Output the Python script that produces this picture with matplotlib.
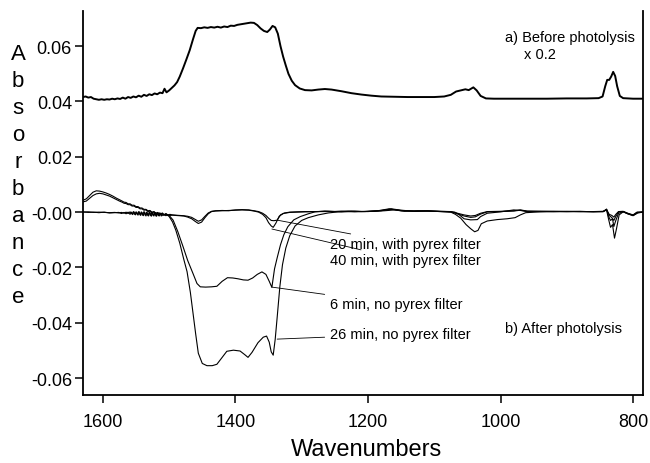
import matplotlib
matplotlib.use("Agg")
import matplotlib.pyplot as plt

plt.rcParams['font.family'] = ['Liberation Sans', 'DejaVu Sans']

# ---------------- data (wavenumber, absorbance) ----------------
before = [(1630,0.0416),(1626,0.0418),(1622,0.0414),(1618,0.0416),(1614,0.0410),(1610,0.0408),(1606,0.0406),
          (1602,0.0408),(1598,0.0406),(1594,0.0408),(1590,0.0407),(1586,0.0410),(1582,0.0408),(1578,0.0411),
          (1574,0.0409),(1570,0.0414),(1566,0.0410),(1562,0.0416),(1558,0.0413),(1554,0.0418),(1550,0.0415),
          (1546,0.0421),(1542,0.0417),(1538,0.0424),(1534,0.0420),(1530,0.0426),(1526,0.0423),(1522,0.0429),
          (1518,0.0426),(1514,0.0432),(1510,0.0430),(1507,0.0446),(1504,0.0433),(1500,0.0440),(1496,0.0449),
          (1492,0.0458),(1488,0.0470),(1484,0.0490),(1479,0.0520),(1474,0.0552),(1469,0.0585),(1464,0.0625),
          (1460,0.0655),(1457,0.0666),(1452,0.0665),(1447,0.0668),(1442,0.0666),(1437,0.0669),(1432,0.0667),
          (1427,0.0670),(1422,0.0667),(1417,0.0671),(1412,0.0669),(1407,0.0674),(1402,0.0673),(1397,0.0677),
          (1392,0.0679),(1387,0.0681),(1382,0.0683),(1377,0.0685),(1372,0.0684),(1367,0.0676),(1362,0.0664),
          (1357,0.0655),(1352,0.0651),(1348,0.0660),(1344,0.0673),(1340,0.0668),(1336,0.0645),(1332,0.0600),
          (1328,0.0562),(1324,0.0530),(1320,0.0500),(1315,0.0475),(1310,0.0459),(1303,0.0447),(1295,0.0441),
          (1285,0.0440),(1275,0.0443),(1265,0.0445),(1255,0.0443),(1240,0.0437),(1225,0.0430),(1210,0.0425),
          (1195,0.0421),(1180,0.0418),(1160,0.0417),(1140,0.0416),(1120,0.0416),(1100,0.0416),(1085,0.0418),
          (1075,0.0424),(1067,0.0436),(1060,0.0440),(1053,0.0444),(1048,0.0441),(1041,0.0451),(1036,0.0440),
          (1030,0.0420),(1022,0.0411),(1010,0.0410),(990,0.0410),(960,0.0410),(930,0.0410),(900,0.0411),
          (870,0.0411),(852,0.0412),(846,0.0418),(842,0.0455),(839,0.0478),(836,0.0478),(833,0.0490),
          (830,0.0507),(827,0.0492),(824,0.0455),(820,0.0420),(815,0.0412),(800,0.0410),(785,0.0410)]

pyrex_20min = [(1630,0.0000),(1622,0.0001),(1614,-0.0001),(1606,0.0000),(1598,-0.0001),(1590,-0.0002),
               (1582,-0.0001),(1576,-0.0003),(1572,-0.0001),(1568,-0.0004),(1565,0.0000),(1562,-0.0005),
               (1559,0.0001),(1556,-0.0007),(1554,0.0002),(1552,-0.0008),(1550,0.0001),(1548,-0.0009),
               (1546,0.0002),(1544,-0.0010),(1542,0.0001),(1540,-0.0011),(1538,0.0002),(1536,-0.0012),
               (1534,0.0000),(1532,-0.0013),(1530,0.0001),(1528,-0.0012),(1526,-0.0001),(1524,-0.0013),
               (1522,0.0000),(1520,-0.0014),(1518,-0.0001),(1516,-0.0013),(1514,-0.0002),(1512,-0.0014),
               (1510,-0.0003),(1508,-0.0012),(1505,-0.0005),(1502,-0.0012),(1499,-0.0008),(1495,-0.0010),
               (1490,-0.0011),(1484,-0.0012),
               (1478,-0.0013),(1472,-0.0015),(1466,-0.0019),(1461,-0.0026),(1456,-0.0033),(1451,-0.0028),
               (1446,-0.0015),(1441,-0.0003),(1436,0.0003),(1430,0.0005),(1420,0.0006),(1410,0.0005),
               (1400,0.0008),(1390,0.0009),(1380,0.0008),(1372,0.0005),(1365,0.0002),(1359,-0.0004),
               (1354,-0.0012),(1350,-0.0022),(1346,-0.0030),(1342,-0.0031),(1337,-0.0029),(1332,-0.0010),
               (1326,-0.0003),(1318,0.0000),(1308,0.0001),(1295,0.0002),(1280,0.0002),(1260,0.0002),
               (1240,0.0003),(1220,0.0001),(1200,0.0003),(1180,0.0006),(1165,0.0010),(1150,0.0006),
               (1130,0.0004),(1110,0.0005),(1090,0.0003),(1075,0.0002),(1065,-0.0004),(1055,-0.0010),
               (1045,-0.0014),(1038,-0.0012),(1030,-0.0004),(1020,0.0002),(1000,0.0003),(980,0.0005),
               (970,0.0008),(960,0.0004),(940,0.0003),(920,0.0002),(900,0.0003),(880,0.0002),(860,0.0002),
               (845,0.0003),(840,0.0009),(836,-0.0008),(832,-0.0012),(829,-0.0018),(826,-0.0008),
               (822,0.0002),(815,0.0003),(808,-0.0004),(800,-0.0010),(794,0.0000),(785,0.0001)]

pyrex_40min = [(1630,0.0001),(1622,-0.0001),(1614,0.0000),(1606,-0.0002),(1598,0.0000),(1590,-0.0003),
               (1582,-0.0002),(1576,-0.0001),(1572,-0.0005),(1568,-0.0001),(1565,-0.0006),(1562,0.0000),
               (1559,-0.0008),(1557,0.0000),(1555,-0.0009),(1553,0.0001),(1551,-0.0010),(1549,0.0000),
               (1547,-0.0011),(1545,0.0001),(1543,-0.0012),(1541,-0.0001),(1539,-0.0013),(1537,0.0000),
               (1535,-0.0014),(1533,-0.0002),(1531,-0.0014),(1529,-0.0001),(1527,-0.0015),(1525,-0.0003),
               (1523,-0.0014),(1521,-0.0002),(1519,-0.0015),(1517,-0.0004),(1515,-0.0014),(1513,-0.0005),
               (1511,-0.0013),(1508,-0.0007),(1505,-0.0013),(1502,-0.0009),(1499,-0.0012),(1495,-0.0011),
               (1490,-0.0012),(1484,-0.0013),
               (1478,-0.0014),(1472,-0.0018),(1466,-0.0024),(1461,-0.0033),(1456,-0.0041),(1451,-0.0036),
               (1446,-0.0020),(1441,-0.0006),(1436,0.0002),(1430,0.0004),(1420,0.0005),(1410,0.0006),
               (1400,0.0007),(1390,0.0008),(1380,0.0007),(1372,0.0004),(1365,0.0000),(1359,-0.0008),
               (1354,-0.0020),(1350,-0.0038),(1346,-0.0050),(1343,-0.0055),(1339,-0.0040),(1334,-0.0015),
               (1328,-0.0005),(1318,-0.0001),(1308,0.0000),(1295,0.0001),(1280,0.0002),(1260,0.0003),
               (1240,0.0001),(1220,0.0003),(1200,0.0002),(1180,0.0005),(1165,0.0012),(1150,0.0007),
               (1130,0.0003),(1110,0.0004),(1090,0.0002),(1075,0.0001),(1065,-0.0006),(1055,-0.0014),
               (1045,-0.0019),(1038,-0.0017),(1030,-0.0007),(1020,0.0001),(1000,0.0002),(980,0.0004),
               (970,0.0007),(960,0.0003),(940,0.0002),(920,0.0003),(900,0.0002),(880,0.0003),(860,0.0001),
               (845,0.0002),(840,0.0010),(836,-0.0012),(832,-0.0020),(829,-0.0030),(826,-0.0015),
               (822,0.0000),(815,0.0002),(808,-0.0005),(800,-0.0011),(794,-0.0001),(785,0.0000)]

nopyrex_6min = [(1630,0.0037),(1625,0.0040),(1620,0.0050),(1615,0.0060),(1610,0.0066),(1605,0.0068),
                (1600,0.0066),(1595,0.0062),(1590,0.0058),(1585,0.0052),(1580,0.0046),(1575,0.0040),
                (1571,0.0036),(1568,0.0032),(1565,0.0031),(1562,0.0027),(1559,0.0027),(1556,0.0022),
                (1553,0.0022),(1550,0.0017),(1547,0.0017),(1544,0.0012),(1541,0.0012),(1538,0.0007),
                (1535,0.0008),(1532,0.0002),(1529,0.0004),(1526,-0.0002),(1523,0.0000),(1520,-0.0005),
                (1517,-0.0003),(1514,-0.0008),(1511,-0.0005),(1508,-0.0009),(1504,-0.0007),(1500,-0.0012),
                (1494,-0.0029),(1487,-0.0070),(1479,-0.0125),(1472,-0.0175),(1464,-0.0222),(1458,-0.0258),
                (1453,-0.0270),(1445,-0.0271),(1436,-0.0270),(1428,-0.0268),(1420,-0.0250),(1412,-0.0237),
                (1404,-0.0238),(1396,-0.0241),(1388,-0.0245),(1381,-0.0246),(1374,-0.0238),(1367,-0.0225),
                (1360,-0.0216),(1354,-0.0225),(1349,-0.0250),(1345,-0.0272),(1341,-0.0205),(1337,-0.0165),
                (1332,-0.0118),(1327,-0.0082),(1321,-0.0053),(1312,-0.0028),(1302,-0.0016),(1290,-0.0006),
                (1280,0.0001),(1265,0.0004),(1250,0.0002),(1230,0.0004),(1210,0.0002),(1190,0.0003),
                (1175,0.0005),(1160,0.0008),(1145,0.0003),(1125,0.0005),(1100,0.0003),(1080,0.0002),
                (1069,0.0000),(1062,-0.0010),(1055,-0.0024),(1045,-0.0028),(1035,-0.0027),(1030,-0.0016),
                (1020,-0.0004),(1000,0.0001),(980,0.0008),(970,0.0006),(960,0.0002),(940,0.0003),
                (900,0.0002),(860,0.0002),(845,0.0002),(840,0.0011),(837,-0.0015),(834,-0.0030),
                (831,-0.0024),(829,-0.0052),(826,-0.0030),(822,-0.0005),(815,0.0002),(808,-0.0006),
                (800,-0.0012),(793,-0.0002),(785,0.0000)]

nopyrex_26min = [(1630,0.0043),(1625,0.0048),(1620,0.0060),(1615,0.0072),(1610,0.0077),(1605,0.0076),
                 (1600,0.0073),(1595,0.0069),(1590,0.0064),(1585,0.0058),(1580,0.0051),(1575,0.0045),
                 (1571,0.0040),(1568,0.0036),(1565,0.0035),(1562,0.0030),(1559,0.0030),(1556,0.0025),
                 (1553,0.0025),(1550,0.0020),(1547,0.0020),(1544,0.0015),(1541,0.0015),(1538,0.0010),
                 (1535,0.0010),(1532,0.0005),(1529,0.0006),(1526,0.0000),(1523,0.0002),(1520,-0.0004),
                 (1517,-0.0002),(1514,-0.0007),(1511,-0.0004),(1508,-0.0010),(1504,-0.0008),(1500,-0.0016),
                 (1495,-0.0035),(1490,-0.0065),(1484,-0.0112),(1478,-0.0170),(1473,-0.0215),(1468,-0.0290),
                 (1464,-0.0365),(1460,-0.0440),(1456,-0.0510),(1450,-0.0547),(1443,-0.0555),(1435,-0.0555),
                 (1428,-0.0550),(1420,-0.0525),(1413,-0.0503),(1403,-0.0499),(1393,-0.0502),(1386,-0.0515),
                 (1381,-0.0525),(1375,-0.0507),(1366,-0.0472),(1358,-0.0452),(1353,-0.0448),(1349,-0.0470),
                 (1346,-0.0505),(1343,-0.0517),(1340,-0.0460),(1337,-0.0380),(1333,-0.0270),(1329,-0.0190),
                 (1324,-0.0130),(1318,-0.0085),(1310,-0.0050),(1300,-0.0030),(1290,-0.0020),(1275,-0.0010),
                 (1260,-0.0003),(1245,0.0001),(1225,0.0003),(1205,0.0002),(1185,0.0005),(1168,0.0012),
                 (1150,0.0005),(1130,0.0003),(1110,0.0004),(1090,0.0002),(1075,0.0000),(1068,-0.0008),
                 (1060,-0.0022),(1052,-0.0045),(1045,-0.0060),(1039,-0.0071),(1034,-0.0066),(1029,-0.0042),
                 (1020,-0.0032),(1005,-0.0027),(990,-0.0024),(978,-0.0020),(970,-0.0010),(962,-0.0002),
                 (940,0.0001),(900,0.0002),(860,0.0002),(845,0.0002),(840,0.0008),(837,-0.0025),
                 (834,-0.0055),(831,-0.0045),(828,-0.0094),(825,-0.0060),(821,-0.0010),(815,0.0001),
                 (808,-0.0006),(800,-0.0013),(793,-0.0003),(785,0.0000)]

x_ticks = [1600, 1400, 1200, 1000, 800]
y_ticks = [0.06, 0.04, 0.02, 0.00, -0.02, -0.04, -0.06]
y_tick_labels = ["0.06", "0.04", "0.02", "-0.00", "-0.02", "-0.04", "-0.06"]

# (label, point on curve, text anchor)
labels = [("20 min, with pyrex filter", (1337, -0.0029), (1257, -0.0116)),
          ("40 min, with pyrex filter", (1345, -0.0061), (1257, -0.0174)),
          ("6 min, no pyrex filter", (1345, -0.0271), (1257, -0.0333)),
          ("26 min, no pyrex filter", (1337, -0.0459), (1257, -0.0441))]

# ---------------- plot ----------------
fig = plt.figure(figsize=(6.5, 4.64), dpi=100)
ax = fig.add_axes([83/650, 1 - 396/464, (643 - 83)/650, (396 - 12)/464])

def unzip(pairs):
    return [p[0] for p in pairs], [p[1] for p in pairs]

for series in [pyrex_20min, pyrex_40min, nopyrex_6min, nopyrex_26min]:
    x, y = unzip(series)
    ax.plot(x, y, color='black', lw=0.8)
x, y = unzip(before)
ax.plot(x, y, color='black', lw=1.4)

ax.set_xlim(1630, 785)
ax.set_ylim(-0.0661, 0.0727)

ax.spines['top'].set_visible(False)
for s in ['left', 'right', 'bottom']:
    ax.spines[s].set_linewidth(1.3)

ax.set_xticks(x_ticks)
ax.set_xticklabels([str(t) for t in x_ticks])
ax.set_yticks(y_ticks)
ax.set_yticklabels(y_tick_labels)
ax.tick_params(axis='x', direction='out', length=6, width=1.1, pad=7, labelsize=13)
ax.tick_params(axis='y', direction='out', length=6, width=1.1, pad=2, labelsize=13)

for text, xy, xytext in labels:
    ax.annotate(text, xy=xy, xytext=xytext, fontsize=10.5, ha='left', va='center',
                arrowprops=dict(arrowstyle='-', lw=0.6, color='black', shrinkA=2, shrinkB=0))

ax.text(993, 0.0633, "a) Before photolysis", fontsize=10.5, ha='left', va='center')
ax.text(964, 0.0571, "x 0.2", fontsize=10.5, ha='left', va='center')
ax.text(993, -0.0420, "b) After photolysis", fontsize=10.5, ha='left', va='center')

fig.text(367/650, 1 - 450/464, "Wavenumbers", fontsize=17, ha='center', va='center')
fig.text(18/650, 1 - 176/464, "\n".join("Absorbance"), fontsize=16, ha='center', va='center',
         linespacing=1.38)

fig.savefig("out.png", dpi=100)
